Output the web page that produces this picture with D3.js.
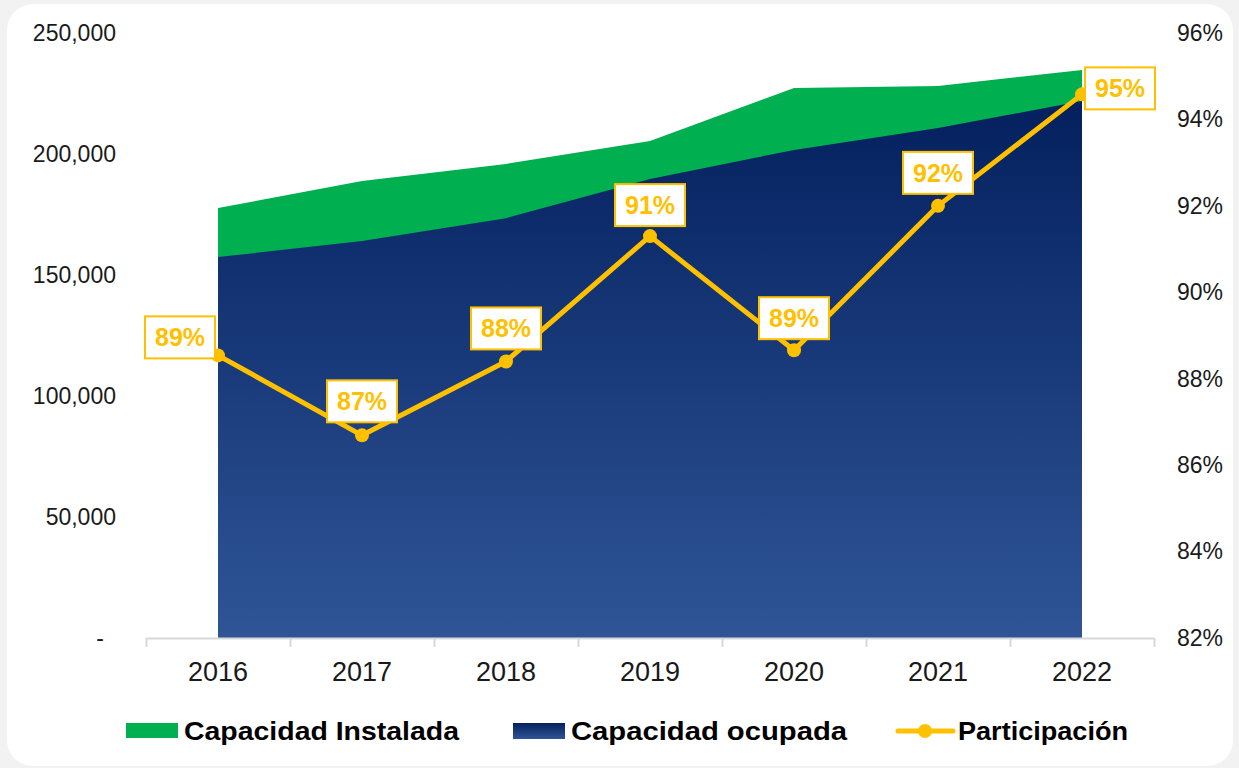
<!DOCTYPE html>
<html><head><meta charset="utf-8">
<script src="https://cdn.jsdelivr.net/npm/d3@7"></script>
<style>
html,body{margin:0;padding:0;background:#f2f2f2;}
svg{display:block;font-family:"Liberation Sans",Arial,sans-serif;}
</style></head>
<body>
<svg id="chart" width="1239" height="768"></svg>
<script>
const years = ["2016","2017","2018","2019","2020","2021","2022"];
const capacidadInstalada = [177700, 188800, 195900, 205400, 227300, 228100, 234700];
const capacidadOcupada   = [157400, 164000, 173500, 189700, 201700, 210700, 221900];
const participacion      = [0.8854, 0.8669, 0.8840, 0.9130, 0.8866, 0.9200, 0.9458];
const participacionLabels = ["89%","87%","88%","91%","89%","92%","95%"];
const leftTicks  = [0, 50000, 100000, 150000, 200000, 250000];
const rightTicks = [0.82, 0.84, 0.86, 0.88, 0.90, 0.92, 0.94, 0.96];
const legendLabels = ["Capacidad Instalada", "Capacidad ocupada", "Participación"];

const svg = d3.select("#chart");
const W = 1239, H = 768;
const GREEN = "#00b050", YELLOW = "#ffc000";

svg.append("rect").attr("x",0).attr("y",0).attr("width",W).attr("height",H).attr("fill","#f2f2f2");
svg.append("rect").attr("x",7).attr("y",4).attr("width",1226).attr("height",762).attr("rx",26).attr("fill","#ffffff");

const defs = svg.append("defs");
const grad = defs.append("linearGradient").attr("id","blueGrad").attr("x1",0).attr("y1",0).attr("x2",0).attr("y2",1);
grad.append("stop").attr("offset","0%").attr("stop-color","#04205e");
grad.append("stop").attr("offset","100%").attr("stop-color","#2f5597");

const x0 = 146, x1 = 1154, yTop = 33, yBot = 638;
const xBand = d3.scaleBand().domain(years).range([x0, x1]).padding(0);
const cx = d => xBand(d) + xBand.bandwidth()/2;
const yL = d3.scaleLinear().domain([0, 250000]).range([yBot, yTop]);
const yR = d3.scaleLinear().domain([0.82, 0.96]).range([yBot, yTop]);

const rows = years.map((y,i)=>({year:y, inst:capacidadInstalada[i], ocu:capacidadOcupada[i], p:participacion[i], lab:participacionLabels[i]}));

// areas
svg.append("path").datum(rows)
  .attr("d", d3.area().x(d=>cx(d.year)).y0(yL(0)).y1(d=>yL(d.inst)))
  .attr("fill", GREEN);
svg.append("path").datum(rows)
  .attr("d", d3.area().x(d=>cx(d.year)).y0(yL(0)).y1(d=>yL(d.ocu)))
  .attr("fill", "url(#blueGrad)");

// left axis
const gL = svg.append("g").attr("transform","translate(116,0)")
  .call(d3.axisLeft(yL).tickValues(leftTicks).tickSize(0).tickPadding(0)
    .tickFormat(d => d===0 ? "-" : d3.format(",")(d)));
gL.select(".domain").remove();
gL.selectAll("text").attr("font-size",23).attr("fill","#1a1a1a").attr("font-family","Liberation Sans, Arial, sans-serif")
  .attr("dx", d => d===0 ? -12 : 0);

// right axis
const gR = svg.append("g").attr("transform","translate(1177,0)")
  .call(d3.axisRight(yR).tickValues(rightTicks).tickSize(0).tickPadding(0)
    .tickFormat(d3.format(".0%")));
gR.select(".domain").remove();
gR.selectAll("text").attr("font-size",23).attr("fill","#1a1a1a").attr("font-family","Liberation Sans, Arial, sans-serif");

// bottom axis
const xEdges = d3.scaleLinear().domain([0, years.length]).range([x0, x1]);
const gB1 = svg.append("g").attr("transform",`translate(0,${yBot})`)
  .call(d3.axisBottom(xEdges).tickValues(d3.range(years.length+1)).tickSize(9).tickSizeOuter(0).tickFormat(""));
gB1.select(".domain").attr("stroke","#d9d9d9").attr("stroke-width",2);
gB1.selectAll(".tick line").attr("stroke","#d9d9d9").attr("stroke-width",2);
const gB = svg.append("g").attr("transform",`translate(0,${yBot})`)
  .call(d3.axisBottom(xBand).tickSize(0).tickPadding(24));
gB.select(".domain").remove();
gB.selectAll("text").attr("font-size",27).attr("fill","#1a1a1a").attr("font-family","Liberation Sans, Arial, sans-serif");

// line
svg.append("path").datum(rows)
  .attr("d", d3.line().x(d=>cx(d.year)).y(d=>yR(d.p)))
  .attr("fill","none").attr("stroke",YELLOW).attr("stroke-width",5).attr("stroke-linejoin","round");
svg.selectAll("circle.pt").data(rows).join("circle").attr("class","pt")
  .attr("cx",d=>cx(d.year)).attr("cy",d=>yR(d.p)).attr("r",7).attr("fill",YELLOW);

// data labels
const offs = [[-38,-18],[0,-34],[0,-33],[0,-31],[0,-32],[0,-33],[38,-6]];
const lg = svg.selectAll("g.lbl").data(rows).join("g").attr("class","lbl")
  .attr("transform",(d,i)=>`translate(${cx(d.year)+offs[i][0]},${yR(d.p)+offs[i][1]})`);
lg.append("rect").attr("x",-35).attr("y",-21).attr("width",70).attr("height",42)
  .attr("fill","#fff").attr("stroke",YELLOW).attr("stroke-width",2);
lg.append("text").text(d=>d.lab).attr("text-anchor","middle").attr("dy","0.36em")
  .attr("font-size",25).attr("font-weight","bold").attr("fill",YELLOW);

// legend
const leg = svg.append("g");
leg.append("rect").attr("x",126).attr("y",723).attr("width",52).attr("height",15).attr("fill",GREEN);
leg.append("text").attr("x",184).attr("y",740).text(legendLabels[0])
  .attr("font-size",25).attr("font-weight","bold").attr("fill","#000").attr("textLength",275).attr("lengthAdjust","spacingAndGlyphs");
leg.append("rect").attr("x",513).attr("y",723).attr("width",52).attr("height",16).attr("fill","url(#blueGrad)");
leg.append("text").attr("x",571).attr("y",740).text(legendLabels[1])
  .attr("font-size",25).attr("font-weight","bold").attr("fill","#000").attr("textLength",276).attr("lengthAdjust","spacingAndGlyphs");
leg.append("line").attr("x1",898).attr("x2",953).attr("y1",731).attr("y2",731).attr("stroke",YELLOW).attr("stroke-width",5).attr("stroke-linecap","round");
leg.append("circle").attr("cx",925).attr("cy",731).attr("r",7).attr("fill",YELLOW);
leg.append("text").attr("x",958).attr("y",740).text(legendLabels[2])
  .attr("font-size",25).attr("font-weight","bold").attr("fill","#000").attr("textLength",170).attr("lengthAdjust","spacingAndGlyphs");
</script>
</body></html>
